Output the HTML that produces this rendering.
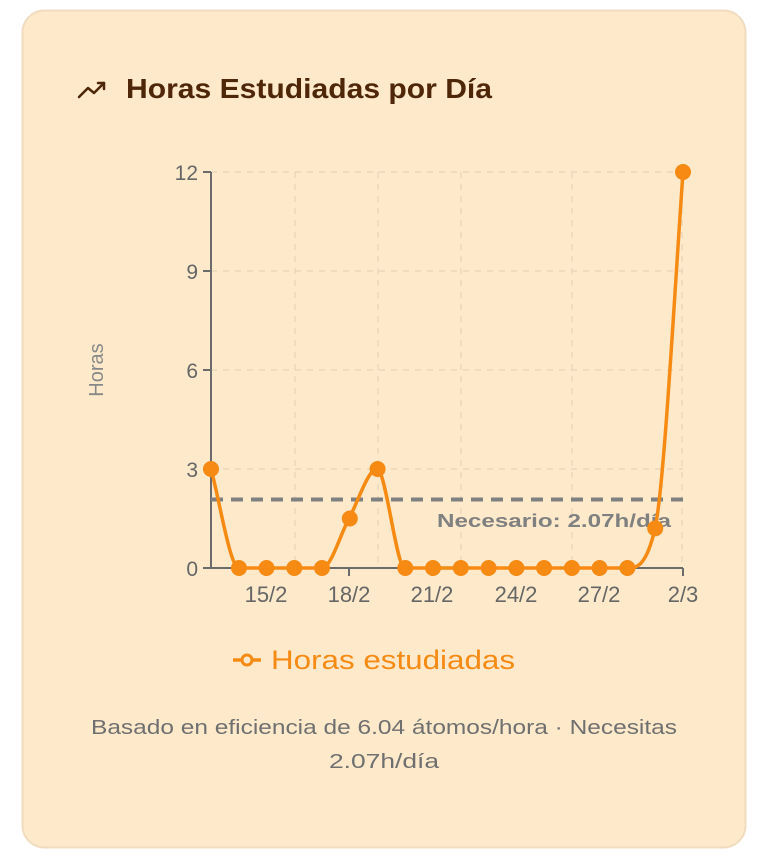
<!DOCTYPE html>
<html><head><meta charset="utf-8"><style>
html,body{margin:0;padding:0;background:#fff;}
svg{display:block}
text{font-family:"Liberation Sans",sans-serif}
</style></head><body>
<svg width="768" height="861" viewBox="0 0 768 861" xmlns="http://www.w3.org/2000/svg">
<rect x="0" y="0" width="768" height="861" fill="#ffffff"/>
<rect x="22.5" y="10.5" width="723" height="837" rx="22" fill="#fee9cb" stroke="#f1dcc0" stroke-width="2"/>
<polyline points="79,97 88,88 94,93 104,83" fill="none" stroke="#4f2608" stroke-width="2.5" stroke-linecap="round" stroke-linejoin="round"/>
<polyline points="98,83 104,83 104,89" fill="none" stroke="#4f2608" stroke-width="2.5" stroke-linecap="round" stroke-linejoin="round"/>
<text x="126" y="98" font-size="28" font-weight="bold" fill="#4f2608" textLength="366" lengthAdjust="spacingAndGlyphs">Horas Estudiadas por Día</text>
<g stroke="#e8d3b8" stroke-width="1.2" stroke-dasharray="6,6" fill="none">
<line x1="211" y1="172" x2="683" y2="172"/>
<line x1="211" y1="271" x2="683" y2="271"/>
<line x1="211" y1="370" x2="683" y2="370"/>
<line x1="211" y1="469" x2="683" y2="469"/>
<line x1="295" y1="172" x2="295" y2="568"/>
<line x1="378" y1="172" x2="378" y2="568"/>
<line x1="461" y1="172" x2="461" y2="568"/>
<line x1="572" y1="172" x2="572" y2="568"/>
<line x1="682" y1="172" x2="682" y2="568"/>
</g>
<g stroke="#6b6b6b" stroke-width="2" fill="none">
<line x1="211" y1="172" x2="211" y2="569"/>
<line x1="210" y1="568" x2="683" y2="568"/>
<line x1="203" y1="172" x2="211" y2="172"/>
<line x1="203" y1="271" x2="211" y2="271"/>
<line x1="203" y1="370" x2="211" y2="370"/>
<line x1="203" y1="469" x2="211" y2="469"/>
<line x1="203" y1="568" x2="211" y2="568"/>
<line x1="266" y1="568" x2="266" y2="576"/>
<line x1="349" y1="568" x2="349" y2="576"/>
<line x1="432" y1="568" x2="432" y2="576"/>
<line x1="516" y1="568" x2="516" y2="576"/>
<line x1="599" y1="568" x2="599" y2="576"/>
<line x1="683" y1="568" x2="683" y2="576"/>
</g>
<g font-size="21" fill="#666" text-anchor="end">
<text x="198" y="180">12</text>
<text x="198" y="279">9</text>
<text x="198" y="378">6</text>
<text x="198" y="477">3</text>
<text x="198" y="576">0</text>
</g>
<g font-size="22" fill="#666" text-anchor="middle">
<text x="266" y="602">15/2</text>
<text x="349" y="602">18/2</text>
<text x="432" y="602">21/2</text>
<text x="516" y="602">24/2</text>
<text x="599" y="602">27/2</text>
<text x="683" y="602">2/3</text>
</g>
<text x="103" y="370" font-size="20" fill="#888" text-anchor="middle" transform="rotate(-90 103 370)">Horas</text>
<line x1="211" y1="499.5" x2="683" y2="499.5" stroke="#808080" stroke-width="4" stroke-dasharray="12,8"/>
<text x="437" y="527" font-size="18" font-weight="bold" fill="#808080" textLength="234" lengthAdjust="spacingAndGlyphs">Necesario: 2.07h/día</text>
<path d="M211,469 C220,502 230,568 239,568 L322,568 C331,568 340,535 349,518.5 C358,502 368,469 377,469 C386,469 396,568 405,568 L627,568 C636,568 646,568 655,528.4 C664,489 674,300 683,172" fill="none" stroke="#f68a12" stroke-width="3.5"/>
<g fill="#f68a12">
<circle cx="211" cy="469" r="8"/>
<circle cx="239" cy="568" r="8"/>
<circle cx="266.5" cy="568" r="8"/>
<circle cx="294.3" cy="568" r="8"/>
<circle cx="322" cy="568" r="8"/>
<circle cx="349.8" cy="518.5" r="8"/>
<circle cx="377.6" cy="469" r="8"/>
<circle cx="405.3" cy="568" r="8"/>
<circle cx="433" cy="568" r="8"/>
<circle cx="460.8" cy="568" r="8"/>
<circle cx="488.6" cy="568" r="8"/>
<circle cx="516.4" cy="568" r="8"/>
<circle cx="544.1" cy="568" r="8"/>
<circle cx="571.9" cy="568" r="8"/>
<circle cx="599.6" cy="568" r="8"/>
<circle cx="627.4" cy="568" r="8"/>
<circle cx="655.2" cy="528.4" r="8"/>
<circle cx="683" cy="172" r="8"/>
</g>
<line x1="233" y1="660" x2="261" y2="660" stroke="#f68a12" stroke-width="3.5"/>
<circle cx="247" cy="660" r="5" fill="#fee9cb" stroke="#f68a12" stroke-width="3"/>
<text x="271" y="669" font-size="27" fill="#f68a12" textLength="244" lengthAdjust="spacingAndGlyphs">Horas estudiadas</text>
<text x="384" y="734" font-size="20" fill="#707070" text-anchor="middle" textLength="586" lengthAdjust="spacingAndGlyphs">Basado en eficiencia de 6.04 átomos/hora · Necesitas</text>
<text x="384" y="768" font-size="20" fill="#707070" text-anchor="middle" textLength="110" lengthAdjust="spacingAndGlyphs">2.07h/día</text>
</svg>
</body></html>
